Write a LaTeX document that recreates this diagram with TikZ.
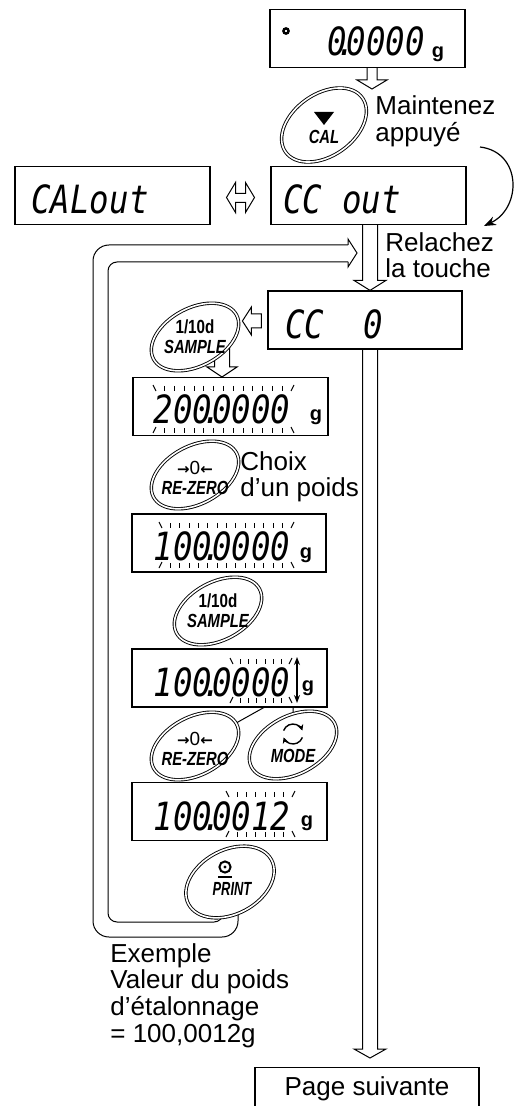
\documentclass[tikz,border=0pt]{standalone}
\usepackage{fontspec}
\setmainfont{Liberation Sans}
\newfontfamily\segfont{DejaVu Sans Mono}
\newfontfamily\arrfont{DejaVu Sans}
\usepackage{graphicx}
\usetikzlibrary{arrows.meta, positioning, calc, shapes.geometric, backgrounds}

% seven segment look and key labels
\newcommand{\segtext}[1]{\scalebox{1}[1.2]{\segfont\itshape #1}}
\newcommand{\ktext}[2][0.78]{\scalebox{#1}[1]{\bfseries\itshape #2}}
\newcommand{\utext}[1]{\scalebox{0.8}[1]{\bfseries #1}}

% blinking marks above and below the digits
\newcommand{\blinkmarks}[5]{%
  \pgfmathsetmacro{\tkstep}{(#2-#1)/(#5+1)}
  \draw[tick] (#1-2,#3) -- (#1+1,#3+6) (#2+2,#3) -- (#2-1,#3+6)
              (#1+1,#4) -- (#1-2,#4+6) (#2-1,#4) -- (#2+2,#4+6);
  \foreach \k in {1,...,#5} {
    \draw[tick] ({#1+\k*\tkstep},#3+1) -- ++(0,5) ({#1+\k*\tkstep},#4+1) -- ++(0,5);
  }}

% hollow arrow pointing down: start, tip, half shaft, half head, head length (px)
\newcommand{\hollowdown}[5]{%
  \draw[hollow] let \p1=#1, \p2=#2 in
    (\x2-#3*0.5pt,\y1) -- (\x2-#3*0.5pt,\y2+#5*0.5pt) -- (\x2-#4*0.5pt,\y2+#5*0.5pt) -- (\x2,\y2)
    -- (\x2+#4*0.5pt,\y2+#5*0.5pt) -- (\x2+#3*0.5pt,\y2+#5*0.5pt) -- (\x2+#3*0.5pt,\y1);}

\tikzset{
  lcd/.style={draw, line width=0.6pt, fill=white, inner sep=0pt, minimum height=29pt},
  key/.style={ellipse, draw, double, double distance=0.8pt, line width=0.45pt, fill=white,
    minimum width=47pt, minimum height=29pt, inner sep=0pt},
  keylbl/.style={font=\fontsize{9.5}{10}\selectfont, inner sep=0pt, align=center},
  seg/.style={font=\fontsize{16.2}{16.2}\selectfont, inner sep=0pt},
  unitg/.style={font=\bfseries\fontsize{10}{10}\selectfont, inner sep=0pt},
  txt/.style={font=\fontsize{13}{13}\selectfont, inner sep=0pt, anchor=base west},
  tick/.style={line width=0.5pt},
  hollow/.style={draw, line width=0.5pt, fill=white, line join=miter},
  loopline/.style={line width=0.5pt},
}

\begin{document}
\begin{tikzpicture}[x=0.5pt, y=-0.5pt]
  \useasboundingbox (0,0) rectangle (514,1106);
  \coordinate (axis) at (370,0);

  % displays
  \node[lcd, minimum width=97.5pt] (zero) at (367.5,38.5) {};
  \node[lcd, minimum width=97.5pt] (calout) at (112.5,195.5) {};
  \node[lcd, minimum width=97.5pt] (ccout) at (368.5,195.5) {};
  \node[lcd, minimum width=97pt] (cczero) at (365,320) {};
  \node[lcd, minimum width=97.5pt] (dispA) at (230.5,406.5) {};
  \node[lcd, minimum width=97pt] (dispB) at (229,543) {};
  \node[lcd, minimum width=97.5pt] (dispC) at (229.5,678) {};
  \node[lcd, minimum width=97.5pt] (dispD) at (229.5,811.5) {};
  \node[draw, line width=0.6pt, anchor=north, minimum width=112pt, inner xsep=0pt, inner ysep=0pt,
    text height=14pt, text depth=10pt, font=\fontsize{13}{13}\selectfont] (page) at (367,1067) {Page suivante};

  \draw[line width=1.2pt] (286,31) circle (1.3pt);
  \node[seg] (zeroT) at (376,41) {\segtext{0\makebox[0pt]{.}0000}};
  \node[unitg] (zeroG) at (438,54) {g};
  \node[seg] (caloutT) at (90,199) {\segtext{CALout}};
  \node[seg] (ccoutT) at (342,199) {\segtext{CC out}};
  \node[seg, anchor=west] (cczeroT) at (285,324) {\segtext{CC\ \ 0}};

  \node[seg] (dispAT) at (222,409) {\segtext{200\makebox[0pt]{.}0000}};
  \node[unitg] (dispAG) at (316,417) {g};
  \blinkmarks{155}{292}{385}{427}{13}
  \node[seg] (dispBT) at (222,546) {\segtext{100\makebox[0pt]{.}0000}};
  \node[unitg] (dispBG) at (306,555) {g};
  \blinkmarks{161}{292}{522}{562}{13}
  \node[seg] (dispCT) at (222,682) {\segtext{100\makebox[0pt]{.}0000}};
  \node[unitg] (dispCG) at (308,688) {g};
  \blinkmarks{232}{290}{658}{697}{6}
  \coordinate (updn) at (297,689);
  \draw[line width=0.6pt, {Stealth[length=4pt,width=3pt]}-{Stealth[length=4pt,width=3pt]}] (297,657) -- (297,703);
  \node[seg] (dispDT) at (222,816) {\segtext{100\makebox[0pt]{.}0012}};
  \node[unitg] (dispDG) at (307,823) {g};
  \blinkmarks{228}{293}{791}{831}{6}

  % keys
  \node[key, rotate=35, minimum height=31pt] (cal) at (324,125) {};
  \fill ($(cal)+(-10,-13)$) -- ++(20,0) -- ++(-10,13) -- cycle;
  \node[keylbl] (calL) at ($(cal)+(0,12)$) {\ktext{CAL}};
  \node[key, rotate=28] (sampleA) at (195,337) {};
  \node[keylbl] (sampleAL) at (sampleA) {\utext{1/10d}\\\ktext{SAMPLE}};
  \node[key, rotate=28] (rezeroA) at (195,475) {};
  \node[keylbl] (rezeroAL) at ($(rezeroA)+(0,3)$) {{\arrfont\bfseries\fontsize{7.5}{7.5}\selectfont→}0{\arrfont\bfseries\fontsize{7.5}{7.5}\selectfont←}\\\ktext{RE-ZERO}};
  \node[key, rotate=28] (sampleB) at (218,611) {};
  \node[keylbl] (sampleBL) at (sampleB) {\utext{1/10d}\\\ktext{SAMPLE}};
  \node[key, rotate=28] (rezeroB) at (195,746) {};
  \node[keylbl] (rezeroBL) at ($(rezeroB)+(0,3)$) {{\arrfont\bfseries\fontsize{7.5}{7.5}\selectfont→}0{\arrfont\bfseries\fontsize{7.5}{7.5}\selectfont←}\\\ktext{RE-ZERO}};
  \node[key, rotate=28] (mode) at (293,745) {};
  \draw[line width=0.7pt, -{Stealth[length=3pt,width=3pt]}] ($(mode)+(-9.4,-14.4)$) arc[start angle=160, end angle=20, radius=5pt];
  \draw[line width=0.7pt, -{Stealth[length=3pt,width=3pt]}] ($(mode)+(9.4,-7.6)$) arc[start angle=-20, end angle=-160, radius=5pt];
  \node[keylbl] (modeL) at ($(mode)+(0,11)$) {\ktext{MODE}};
  \node[key, rotate=28, minimum height=32pt] (print) at (230,882) {};
  \draw[line width=1pt] (225,867) circle (2.8pt);
  \fill (225,867) circle (0.8pt);
  \draw[line width=1.2pt] (218,877) -- (232,877);
  \node[keylbl] (printL) at ($(print)+(2,7)$) {\ktext[0.68]{PRINT}};

  % arrows and the loop, behind boxes and keys
  \begin{scope}[on background layer]
    \hollowdown{(zero.south -| 372,0)}{(372,89)}{5}{15}{9}
    \hollowdown{(ccout.south -| axis)}{(cczero.north -| axis)}{7.5}{16}{10}
    \hollowdown{(cczero.south -| axis)}{($(page.north -| axis)+(0,-9)$)}{7.5}{16}{9}
    \hollowdown{(sampleA.center -| 222,0)}{(222,377)}{7.5}{15}{10}
    \draw[rounded corners=8pt, loopline] ($(print)+(8,0)$) -- ++(0,55) -| (93,245) -- (348,245);
    \draw[rounded corners=4.5pt, loopline] ($(print)+(-7,0)$) -- ++(0,40) -| (108,262) -- (348,262);
    \draw[loopline, line join=miter] (348,245) -- (348,239) -- (357,253) -- (348,267) -- (348,262);
    \draw[line width=0.5pt] (rezeroB) -- (updn);
    \draw[line width=0.5pt] (mode) -- (mode |- 0,697);
  \end{scope}

  % small hollow arrows
  \coordinate (swap) at ($(calout.east)!0.5!(ccout.west)$);
  \draw[hollow] (swap) ++(-14,2) -- ++(9,-15) -- ++(0,11) -- ++(10,0) -- ++(0,-11) -- ++(9,15)
    -- ++(-9,15) -- ++(0,-10) -- ++(-10,0) -- ++(0,10) -- cycle;
  \draw[hollow] (cczero.west) ++(-6,1) -- ++(0,-7) -- ++(-10,0) -- ++(0,-7) -- ++(-9,14)
    -- ++(9,14) -- ++(0,-7) -- ++(10,0) -- cycle;

  % held-key arrow
  \coordinate (holdA) at (480,147);
  \coordinate (holdB) at (484,226);
  \draw[line width=0.6pt, -{Stealth[length=6pt,width=4.5pt]}] (holdA) .. controls (522,152) and (522,208) .. (holdB);

  % texts
  \node[txt] (hold1) at (375,115) {Maintenez};
  \node[txt] (hold2) at (375,142) {appuyé};
  \node[txt] (rel1) at (385,252) {Relachez};
  \node[txt] (rel2) at (385,278) {la touche};
  \node[txt] (choix1) at (240,470) {Choix};
  \node[txt] (choix2) at (240,496) {d’un poids};
  \node[txt] (ex1) at (110,962) {Exemple};
  \node[txt] (ex2) at (110,988) {Valeur du poids};
  \node[txt] (ex3) at (110,1015) {d’étalonnage};
  \node[txt] (ex4) at (110,1042) {= 100,0012g};
\end{tikzpicture}
\end{document}
